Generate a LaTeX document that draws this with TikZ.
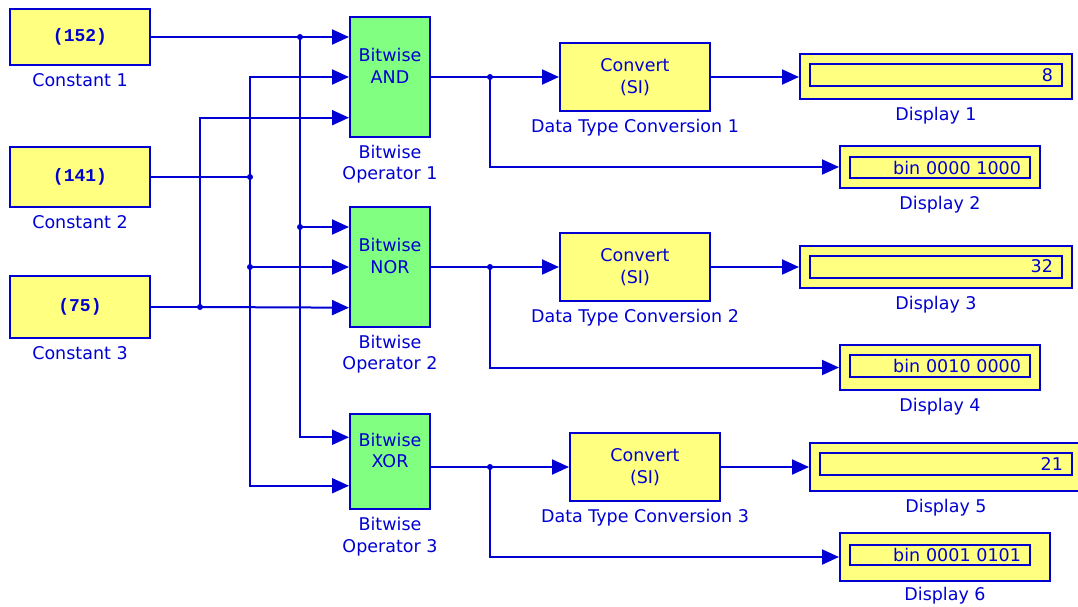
\documentclass[tikz,border=0pt]{standalone}
\usepackage{fontspec}
\setmainfont{DejaVu Sans}
\newfontfamily\blkmono{Liberation Mono}
\usepackage{tikz}
\usetikzlibrary{arrows.meta, positioning, calc}

\definecolor{slblue}{RGB}{0,0,210}
\definecolor{slyellow}{RGB}{255,255,128}
\definecolor{slgreen}{RGB}{128,255,128}

\begin{document}
\begin{tikzpicture}[x=1pt, y=-1pt,
  every node/.style={text=slblue, font=\fontsize{17.5}{21.5}\selectfont},
  blk/.style={rectangle, draw=slblue, line width=2pt, fill=slyellow, inner sep=0pt},
  cst/.style={blk, minimum width=140pt, font=\blkmono\bfseries\fontsize{18}{21}\selectfont},
  bitop/.style={blk, fill=slgreen, minimum width=80pt},
  optxt/.style={inner sep=0pt, align=center},
  conv/.style={blk, minimum width=150pt, minimum height=68pt, align=center},
  disp/.style={blk},
  dispin/.style={rectangle, draw=slblue, line width=2pt, inner xsep=9pt, inner ysep=0pt,
                 text width=#1, align=right},
  lbl/.style={inner sep=0pt, align=center},
  wire/.style={draw=slblue, line width=2pt},
  arr/.style={wire, -{Triangle[length=17pt, width=15pt]}}
]
  \useasboundingbox (0,0) rectangle (1078,607);

  % Constants
  \node[cst, minimum height=56pt] (const1) at (80,37) {(152)};
  \node[cst, minimum height=60pt] (const2) at (80,177) {(141)};
  \node[cst, minimum height=62pt] (const3) at (80,307) {(75)};
  \node[lbl, below=7pt of const1] {Constant 1};
  \node[lbl, below=7pt of const2] {Constant 2};
  \node[lbl, below=7pt of const3] {Constant 3};

  % Bitwise operators
  \node[bitop, minimum height=120pt] (op1) at (390,77) {};
  \node[bitop, minimum height=120pt] (op2) at (390,267) {};
  \node[bitop, minimum height=95pt] (op3) at (390,461.5) {};
  \node[optxt] (op1txt) at ([yshift=11pt]op1.center) {Bitwise\\AND};
  \node[optxt] (op2txt) at ([yshift=11pt]op2.center) {Bitwise\\NOR};
  \node[optxt] (op3txt) at ([yshift=11pt]op3.center) {Bitwise\\XOR};
  \node[lbl, below=7pt of op1] {Bitwise\\Operator 1};
  \node[lbl, below=7pt of op2] {Bitwise\\Operator 2};
  \node[lbl, below=7pt of op3] {Bitwise\\Operator 3};

  % Input ports
  \coordinate (op1i3) at ($(op1.north west)!5/6!(op1.south west)$);
  \coordinate (op2i3) at ($(op2.north west)!5/6!(op2.south west)$);
  \coordinate (op3i1) at ($(op3.north west)!1/4!(op3.south west)$);
  \coordinate (op3i2) at ($(op3.north west)!3/4!(op3.south west)$);

  % Data type conversions
  \node[conv] (dtc1) at (635,77) {Convert\\(SI)};
  \node[conv] (dtc2) at (635,267) {Convert\\(SI)};
  \node[conv] (dtc3) at (645,467) {Convert\\(SI)};
  \node[lbl, below=7pt of dtc1] {Data Type Conversion 1};
  \node[lbl, below=7pt of dtc2] {Data Type Conversion 2};
  \node[lbl, below=7pt of dtc3] {Data Type Conversion 3};

  % Displays
  \node[disp, minimum width=272pt, minimum height=45pt] (disp1) at (936,77) {};
  \node[disp, minimum width=200pt, minimum height=42pt] (disp2) at (940,167) {};
  \node[disp, minimum width=272pt, minimum height=42pt] (disp3) at (936,267) {};
  \node[disp, minimum width=200pt, minimum height=45pt] (disp4) at (940,367.5) {};
  \node[disp, minimum width=272pt, minimum height=48pt] (disp5) at (946,467) {};
  \node[disp, minimum width=210pt, minimum height=48pt] (disp6) at (945,557) {};
  \node[dispin=234pt, minimum height=22pt] (disp1in) at (936,75.5) {8};
  \node[dispin=162pt, minimum height=21pt] (disp2in) at (940,167.5) {bin 0000 1000};
  \node[dispin=234pt, minimum height=22pt] (disp3in) at (936,266.5) {32};
  \node[dispin=162pt, minimum height=22pt] (disp4in) at (940,366) {bin 0010 0000};
  \node[dispin=234pt, minimum height=22pt] (disp5in) at (946,464) {21};
  \node[dispin=162pt, minimum height=20pt] (disp6in) at (940,555) {bin 0001 0101};
  \node[lbl, below=7pt of disp1] {Display 1};
  \node[lbl, below=7pt of disp2] {Display 2};
  \node[lbl, below=7pt of disp3] {Display 3};
  \node[lbl, below=7pt of disp4] {Display 4};
  \node[lbl, below=7pt of disp5] {Display 5};
  \node[lbl, below=5pt of disp6] {Display 6};

  % Branch points
  \coordinate (j1) at (300,37);
  \coordinate (j1b) at (300,227);
  \coordinate (j2) at (250,177);
  \coordinate (j2b) at (250,267);
  \coordinate (j3) at (200,307);
  \coordinate (k1) at (490,77);
  \coordinate (k2) at (490,267);
  \coordinate (k3) at (490,467);

  % Wires into the operators
  \draw[wire] (const1.east) -- (j1);
  \draw[arr] (j1) -- (op1.west |- j1);
  \draw[wire] (j1) -- (j1b);
  \draw[arr] (j1b) -- (op2.west |- j1b);
  \draw[arr] (j1b) |- (op3i1);
  \draw[wire] (const2.east) -- (j2);
  \draw[arr] (j2) |- (op1.west);
  \draw[wire] (j2) -- (j2b);
  \draw[arr] (j2b) -- (op2.west);
  \draw[arr] (j2b) |- (op3i2);
  \draw[wire] (const3.east) -- (j3);
  \draw[arr] (j3) -- (op2i3);
  \draw[arr] (j3) |- (op1i3);

  % Wires out of the operators
  \draw[wire] (op1.east) -- (k1);
  \draw[arr] (k1) -- (dtc1);
  \draw[arr] (k1) |- (disp2);
  \draw[arr] (dtc1) -- (disp1.west |- dtc1);
  \draw[wire] (op2.east) -- (k2);
  \draw[arr] (k2) -- (dtc2);
  \draw[arr] (k2) |- (disp4);
  \draw[arr] (dtc2) -- (disp3.west |- dtc2);
  \draw[wire] (op3.east |- dtc3) -- (k3);
  \draw[arr] (k3) -- (dtc3);
  \draw[arr] (k3) |- (disp6);
  \draw[arr] (dtc3) -- (disp5);

  \foreach \j in {j1, j1b, j2, j2b, j3, k1, k2, k3}
    \fill[slblue] (\j) circle (3pt);
\end{tikzpicture}
\end{document}
